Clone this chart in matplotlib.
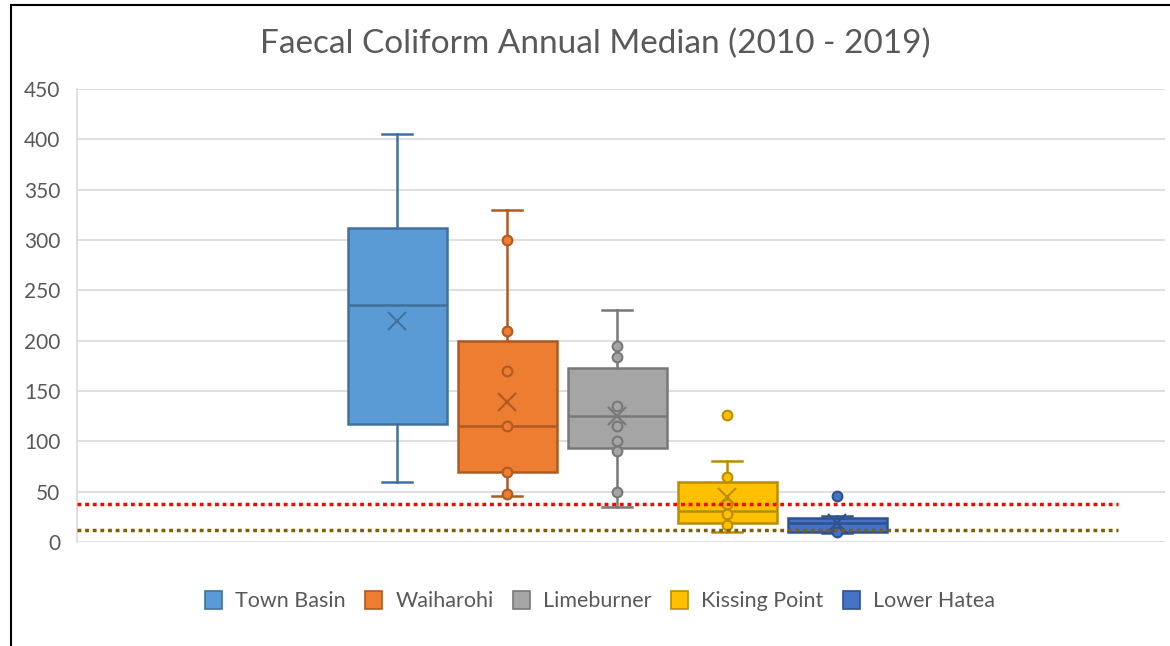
import matplotlib
matplotlib.use("Agg")
import matplotlib.pyplot as plt
from matplotlib.lines import Line2D
from matplotlib.patches import Patch

plt.rcParams['font.family'] = ['Lato', 'DejaVu Sans']

# data
sites = ['Town Basin', 'Waiharohi', 'Limeburner', 'Kissing Point', 'Lower Hatea']
whis_hi = [405, 330, 230, 80, 26]
q3 = [312, 200, 173, 60, 24]
median = [235, 115, 125, 31, 19]
mean = [220, 139, 125, 45, 19]
q1 = [117, 70, 93, 19, 10]
whis_lo = [60, 46, 35, 10, 9]
points = [
    [],
    [300, 210, 170, 115, 70, 48],
    [195, 184, 135, 115, 100, 90, 50],
    [126, 65, 38, 28, 17],
    [46, 10],
]
guide_red = 38
guide_olive = 12

fills = ['#5B9BD5', '#ED7D31', '#A5A5A5', '#FFC000', '#4472C4']
edges = ['#41719C', '#AE5A21', '#787878', '#BC8C00', '#2F528F']
txt = '#595959'

fig = plt.figure(figsize=(11.7, 6.46), dpi=100)
ax = fig.add_axes([77/1170, 1-542/646, (1165-77)/1170, (542-89)/646])

positions = list(range(1, len(sites)+1))
for i, p in enumerate(positions):
    st = [dict(med=median[i], q1=q1[i], q3=q3[i], whislo=whis_lo[i],
               whishi=whis_hi[i], mean=mean[i], fliers=[])]
    ec = edges[i]
    ax.bxp(st, positions=[p], widths=0.9, capwidths=[0.27], patch_artist=True,
           showmeans=True, showfliers=False,
           boxprops=dict(facecolor=fills[i], edgecolor=ec, linewidth=1.8),
           medianprops=dict(color=ec, linewidth=1.8),
           whiskerprops=dict(color=ec, linewidth=1.8),
           capprops=dict(color=ec, linewidth=1.8),
           meanprops=dict(marker='x', markeredgecolor=ec, markersize=13,
                          markeredgewidth=1.5),
           zorder=3)
    if points[i]:
        ax.plot([p]*len(points[i]), points[i], 'o', markersize=7,
                markerfacecolor=fills[i], markeredgecolor=ec,
                markeredgewidth=1.5, zorder=4)

# 110 px per category, middle box at x=617 px
cx = 3
ax.set_xlim(cx-(617-77)/110, cx+(1165-617)/110)
ax.set_ylim(0, 450)
x0 = ax.get_xlim()[0]
line_end = cx + (1118-617)/110
ax.plot([x0, line_end], [guide_red, guide_red], color='#FF0000',
        linewidth=2.5, linestyle=(0, (1.1, 1.1)), zorder=5, clip_on=False)
ax.plot([x0, line_end], [guide_olive, guide_olive], color='#7F6000',
        linewidth=2.5, linestyle=(0, (1.1, 1.1)), zorder=5, clip_on=False)

ax.set_yticks(range(0, 451, 50))
ax.set_xticks([])
ax.grid(axis='y', color='#D9D9D9', linewidth=1.2, zorder=0)
ax.set_axisbelow(True)
for s in ['top', 'right', 'bottom']:
    ax.spines[s].set_visible(False)
ax.spines['left'].set_color('#D9D9D9')
ax.spines['left'].set_linewidth(1.2)
ax.tick_params(axis='y', length=0, pad=12, labelsize=15, labelcolor=txt)

fig.text(595/1170, 1-44/646, 'Faecal Coliform Annual Median (2010 - 2019)',
         ha='center', va='center', fontsize=24, color=txt)

handles = [Patch(facecolor=f, edgecolor=e, linewidth=1.2) for f, e in zip(fills, edges)]
fig.legend(handles, sites, loc='center', bbox_to_anchor=(600/1170, 1-601/646),
           ncol=5, frameon=False, fontsize=15.5, labelcolor=txt,
           handlelength=0.8, handleheight=0.9, handletextpad=0.6,
           columnspacing=0.9)

# chart border (left and top edge visible)
fig.add_artist(Line2D([10.5/1170, 10.5/1170], [0, 1-5/646], color='black', linewidth=1.5))
fig.add_artist(Line2D([10.5/1170, 1], [1-5/646, 1-5/646], color='black', linewidth=1.5))

fig.savefig('out.png', dpi=100, facecolor='white')
